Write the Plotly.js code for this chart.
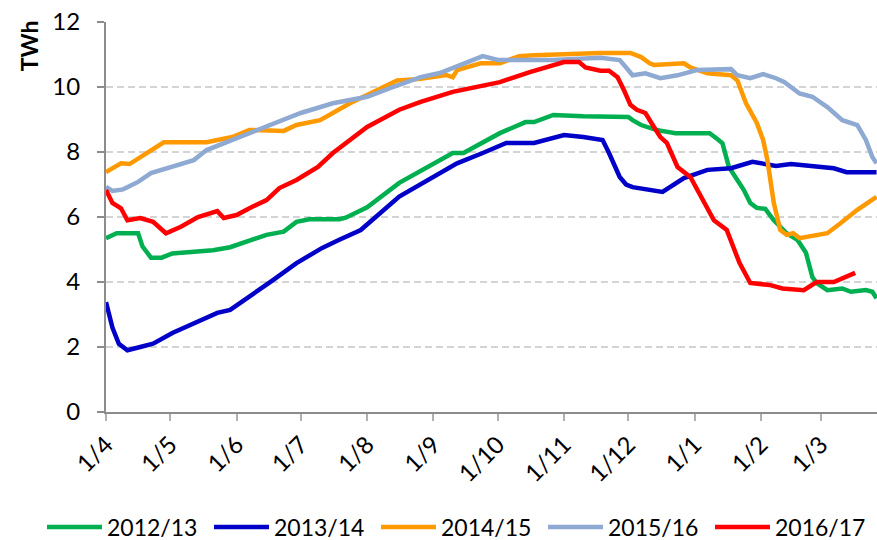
<!DOCTYPE html>
<html>
<head>
<meta charset="utf-8">
<script src="https://cdn.plot.ly/plotly-3.0.1.min.js"></script>
<style>html,body{margin:0;padding:0;background:#fff;}#chart{width:877px;height:540px;}</style>
</head>
<body>
<div id="chart"></div>
<script>
// Days counted from 1 April of each season
var seriesNames = ["2012/13", "2013/14", "2014/15", "2015/16", "2016/17"];
var seriesColors = ["#00B050", "#0000C8", "#FF9900", "#8EA9D2", "#FF0000"];

var days1213 = [0,5,15,17,21,26,31,50,58,67,75,83,89,95,109,112,118,122,137,153,162,167,184,196,200,209,223,244,246,250,257,266,282,285,288,291,298,301,304,308,312,318,323,327,330,332,337,344,348,355,358,360];
var vals1213 = [5.35,5.5,5.5,5.1,4.75,4.75,4.88,4.98,5.07,5.28,5.45,5.55,5.85,5.93,5.93,5.98,6.15,6.3,7.05,7.65,7.97,7.97,8.58,8.92,8.92,9.14,9.1,9.08,8.98,8.83,8.68,8.58,8.58,8.43,8.27,7.54,6.83,6.43,6.28,6.25,5.9,5.5,5.3,4.9,4.15,3.97,3.75,3.8,3.7,3.75,3.7,3.5];

var days1314 = [0,3,6,10,16,22,31,42,52,58,67,78,89,101,109,119,137,153,164,176,187,200,206,214,223,232,235,240,243,246,260,270,281,292,302,313,320,332,340,346,360];
var vals1314 = [3.38,2.6,2.1,1.9,2.0,2.1,2.43,2.74,3.05,3.14,3.54,4.06,4.58,5.05,5.3,5.6,6.63,7.23,7.65,7.97,8.28,8.28,8.37,8.52,8.46,8.37,7.97,7.23,7.0,6.92,6.77,7.2,7.45,7.5,7.7,7.57,7.63,7.54,7.5,7.38,7.38];

var days1415 = [0,7,11,15,19,27,47,59,67,83,89,100,114,125,136,147,159,162,164,175,184,193,200,231,245,250,254,256,270,273,281,292,295,299,304,307,309,312,315,318,321,324,328,337,343,351,360];
var vals1415 = [7.38,7.65,7.63,7.8,8.0,8.3,8.3,8.46,8.68,8.65,8.83,8.98,9.5,9.85,10.2,10.25,10.37,10.3,10.52,10.73,10.73,10.95,10.98,11.05,11.05,10.92,10.73,10.68,10.73,10.6,10.42,10.36,10.2,9.5,8.9,8.37,7.75,6.43,5.6,5.45,5.5,5.35,5.4,5.5,5.8,6.22,6.62];

var days1516 = [0,3,8,15,21,33,41,47,59,72,83,91,106,122,133,147,156,165,171,176,183,209,231,240,243,246,252,259,267,276,292,295,301,305,307,313,317,324,330,337,344,351,355,358,360];
var vals1516 = [6.93,6.8,6.85,7.08,7.35,7.6,7.75,8.06,8.37,8.68,8.98,9.2,9.5,9.7,9.97,10.3,10.43,10.67,10.83,10.95,10.83,10.83,10.9,10.83,10.6,10.36,10.42,10.27,10.36,10.52,10.55,10.36,10.27,10.37,10.4,10.27,10.15,9.8,9.7,9.38,8.98,8.83,8.37,7.85,7.65];

var days1617 = [0,3,7,10,16,22,28,35,43,52,55,61,67,75,81,89,99,106,122,137,147,162,184,198,214,221,224,231,235,239,242,245,248,252,256,259,262,267,273,279,284,290,296,301,310,316,326,332,340,350];
var vals1617 = [6.83,6.43,6.27,5.9,5.97,5.85,5.5,5.7,6.0,6.18,5.97,6.06,6.27,6.52,6.89,7.14,7.54,7.97,8.77,9.3,9.54,9.85,10.15,10.46,10.77,10.77,10.6,10.5,10.5,10.3,9.9,9.45,9.3,9.2,8.77,8.46,8.28,7.54,7.23,6.52,5.9,5.6,4.58,3.97,3.91,3.8,3.75,4.0,4.0,4.28];

var tickDays = [0,30,61,91,122,153,183,214,244,275,306,334];
var tickLabels = ["1/4","1/5","1/6","1/7","1/8","1/9","1/10","1/11","1/12","1/1","1/2","1/3"];
var yTicks = [0,2,4,6,8,10,12];

var allDays = [days1213, days1314, days1415, days1516, days1617];
var allVals = [vals1213, vals1314, vals1415, vals1516, vals1617];

var traces = seriesNames.map(function(name, i) {
  return {
    type: "scatter", mode: "lines", name: name,
    x: allDays[i], y: allVals[i],
    line: {color: seriesColors[i], width: 4.5}
  };
});

var font = "Lato, 'Liberation Sans', sans-serif";
var layout = {
  width: 877, height: 540,
  margin: {l: 106, r: 0, t: 22, b: 128, autoexpand: false},
  paper_bgcolor: "#fff", plot_bgcolor: "#fff",
  font: {family: font, size: 23, color: "#000"},
  showlegend: true,
  legend: {
    orientation: "h", x: -0.083, xanchor: "left", y: -0.295, yanchor: "middle",
    font: {family: font, size: 23, color: "#000"},
    itemwidth: 55, entrywidth: 97, entrywidthmode: "pixels", tracegroupgap: 0
  },
  xaxis: {
    range: [0, 360.2], tickvals: tickDays, ticktext: tickLabels, tickangle: -45,
    showgrid: false, zeroline: false,
    showline: true, linecolor: "#8c8c8c", linewidth: 2,
    ticks: "outside", ticklen: 7, tickwidth: 2, tickcolor: "#b0b0b0",
    tickfont: {family: font, size: 24, color: "#000"}
  },
  yaxis: {
    range: [0, 12], tickvals: yTicks,
    showgrid: true, gridcolor: "#d4d4d4", gridwidth: 1.5, griddash: "7px,4px",
    zeroline: false,
    showline: true, linecolor: "#8c8c8c", linewidth: 2,
    ticks: "outside", ticklen: 7, tickwidth: 2, tickcolor: "#8c8c8c",
    ticklabelstandoff: 12,
    tickfont: {family: font, size: 24, color: "#000"}
  },
  annotations: [{
    text: "<b>TWh</b>", xref: "paper", yref: "paper",
    x: -0.1, y: 0.94, xanchor: "center", yanchor: "middle",
    textangle: -90, showarrow: false,
    font: {family: font, size: 23, color: "#000"}
  }]
};

Plotly.newPlot("chart", traces, layout, {staticPlot: true, displayModeBar: false});
</script>
</body>
</html>
